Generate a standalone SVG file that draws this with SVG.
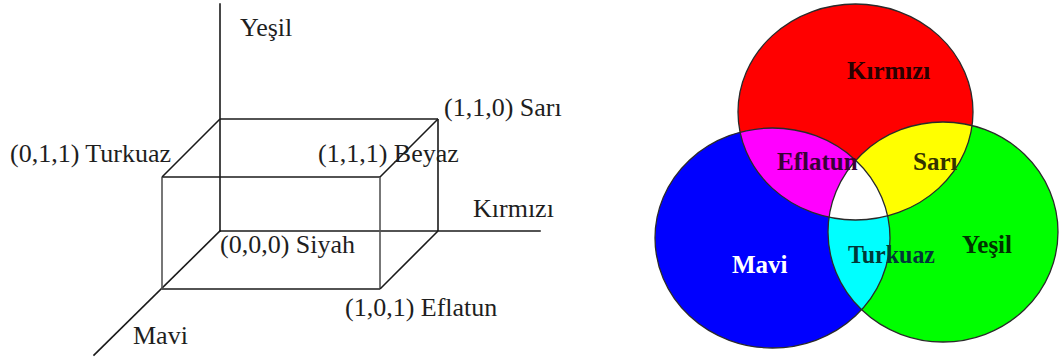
<svg xmlns="http://www.w3.org/2000/svg" width="1060" height="360" viewBox="0 0 1060 360">
  <style>
    .axis { stroke: #1a1a1a; stroke-width: 1.6; fill: none; stroke-linecap: square; }
    .edge { stroke: #1a1a1a; stroke-width: 1.6; fill: none; }
    .edge-front { stroke: #555; stroke-width: 1.6; fill: none; }
    .lbl { font-family: "Liberation Serif", "Times New Roman", serif; font-size: 26px; fill: #1e1e1e; }
    .vlbl { font-family: "Liberation Serif", "Times New Roman", serif; font-size: 25px; font-weight: bold; }
    .ring { fill: none; stroke: #2a2a2a; stroke-width: 1.3; }
  </style>
  <defs>
    <ellipse id="e-red" cx="855.5" cy="112" rx="117.5" ry="108"/>
    <ellipse id="e-blue" cx="772.5" cy="238" rx="117.5" ry="110"/>
    <ellipse id="e-green" cx="943" cy="232" rx="115" ry="110"/>
    <clipPath id="clip-blue"><use href="#e-blue"/></clipPath>
    <clipPath id="clip-green"><use href="#e-green"/></clipPath>
  </defs>

  <rect width="1060" height="360" fill="#ffffff"/>

  <!-- RGB colour cube -->
  <g id="cube-axes">
    <line class="axis" x1="220" y1="4" x2="220" y2="231"/>
    <line class="axis" x1="220" y1="231" x2="540" y2="231"/>
    <line class="axis" x1="220" y1="231" x2="94" y2="355"/>
  </g>
  <g id="cube-edges">
    <!-- back face -->
    <line class="edge" x1="220" y1="119" x2="438" y2="119"/>
    <line class="edge" x1="438" y1="119" x2="438" y2="231"/>
    <!-- front face -->
    <line class="edge" x1="162" y1="177" x2="380" y2="177"/>
    <line class="edge" x1="162" y1="289" x2="380" y2="289"/>
    <line class="edge-front" x1="162" y1="177" x2="162" y2="289"/>
    <line class="edge-front" x1="380" y1="177" x2="380" y2="289"/>
    <!-- depth edges -->
    <line class="edge" x1="220" y1="119" x2="162" y2="177"/>
    <line class="edge" x1="438" y1="119" x2="380" y2="177"/>
    <line class="edge" x1="438" y1="231" x2="380" y2="289"/>
  </g>
  <g id="cube-labels">
    <text class="lbl" x="240" y="36">Yeşil</text>
    <text class="lbl" x="444" y="116">(1,1,0) Sarı</text>
    <text class="lbl" x="10" y="162">(0,1,1) Turkuaz</text>
    <text class="lbl" x="318" y="162">(1,1,1) Beyaz</text>
    <text class="lbl" x="473" y="217">Kırmızı</text>
    <text class="lbl" x="220" y="253">(0,0,0) Siyah</text>
    <text class="lbl" x="345" y="316">(1,0,1) Eflatun</text>
    <text class="lbl" x="133" y="344">Mavi</text>
  </g>

  <!-- Additive colour mixing -->
  <g id="venn-fills">
    <use href="#e-red" fill="#ff0000"/>
    <use href="#e-blue" fill="#0000ff"/>
    <use href="#e-green" fill="#00ff00"/>
    <use href="#e-red" fill="#ff00ff" clip-path="url(#clip-blue)"/>
    <use href="#e-red" fill="#ffff00" clip-path="url(#clip-green)"/>
    <use href="#e-blue" fill="#00ffff" clip-path="url(#clip-green)"/>
    <g clip-path="url(#clip-blue)">
      <use href="#e-red" fill="#ffffff" clip-path="url(#clip-green)"/>
    </g>
  </g>
  <g id="venn-outlines">
    <use href="#e-red" class="ring"/>
    <use href="#e-blue" class="ring"/>
    <use href="#e-green" class="ring"/>
  </g>
  <g id="venn-labels">
    <text class="vlbl" x="847" y="79" fill="#2a0000">Kırmızı</text>
    <text class="vlbl" x="777" y="170" fill="#3a0038">Eflatun</text>
    <text class="vlbl" x="913" y="170" fill="#333300">Sarı</text>
    <text class="vlbl" x="732" y="273" fill="#ffffff">Mavi</text>
    <text class="vlbl" x="848" y="263" fill="#003838" textLength="87" lengthAdjust="spacingAndGlyphs">Turkuaz</text>
    <text class="vlbl" x="962" y="253" fill="#003300">Yeşil</text>
  </g>
</svg>
